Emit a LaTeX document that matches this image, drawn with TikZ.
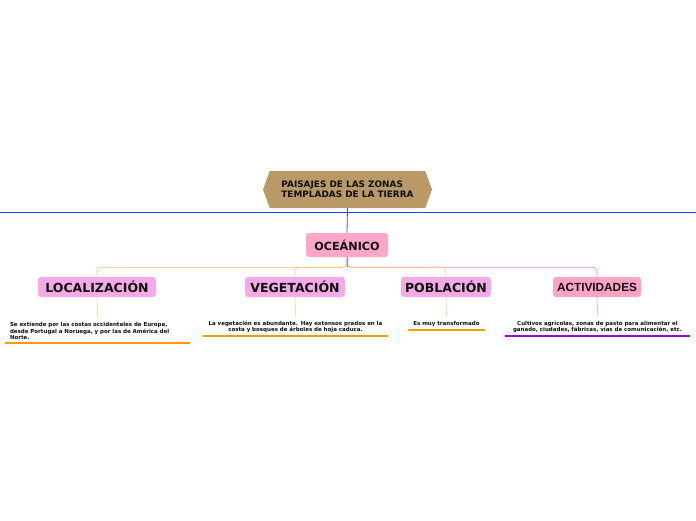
\documentclass[tikz,border=0pt]{standalone}
\usepackage{fontspec}
\setmainfont{DejaVu Sans}
\newfontfamily\actfont{Liberation Sans}
\usetikzlibrary{shapes.symbols}

\definecolor{titletan}{RGB}{185,153,102}
\definecolor{lineblue}{RGB}{20,70,255}
\definecolor{stemviolet}{RGB}{100,50,220}
\definecolor{ocepink}{RGB}{255,166,201}
\definecolor{subpink}{RGB}{245,170,232}
\definecolor{actpink}{RGB}{255,163,196}
\definecolor{lightorange}{RGB}{255,200,120}
\definecolor{lightviolet}{RGB}{214,140,250}
\definecolor{stubpink}{RGB}{225,100,190}
\definecolor{uorange}{RGB}{255,153,0}
\definecolor{upurple}{RGB}{153,0,238}
\definecolor{inkdark}{RGB}{15,15,15}

\tikzset{
  topic/.style={fill=#1, rounded corners=3pt, text=inkdark,
    font=\bfseries\fontsize{11.2}{13}\selectfont, minimum height=20pt, inner xsep=4pt},
  subtopic/.style={topic=#1, font=\bfseries\fontsize{12.5}{14}\selectfont},
  note/.style={font=\bfseries\fontsize{5.5}{6.6}\selectfont, text=inkdark,
    inner xsep=5pt, inner ysep=3pt, anchor=south},
  branch/.style={rounded corners=4pt, line width=0.6pt, draw=#1},
  underline/.style={line width=2.6pt, draw=#1, line cap=round, shorten <=1pt, shorten >=1pt},
}

\begin{document}
\begin{tikzpicture}[x=1pt,y=-1pt]
  \useasboundingbox (0,0) rectangle (696,520);
  % Horizon line
  \draw[lineblue, line width=0.8pt] (0,212) -- (696,212);

  % Main topic
  \node[signal, signal to=west and east, signal pointer angle=140, fill=titletan,
    minimum width=169pt, minimum height=37pt, inner sep=0pt, align=left, text=inkdark,
    font=\bfseries\fontsize{8.9}{10.5}\selectfont] (title) at (347.5,189.5)
    {PAISAJES DE LAS ZONAS\\TEMPLADAS DE LA TIERRA};

  % Central topic
  \node[topic=ocepink, minimum height=24pt, minimum width=82pt] (oce) at (347,245) {OCE\'ANICO};
  \draw[stemviolet, line width=0.8pt] (title.south) -- (oce.north);

  % Subtopics
  \node[subtopic=subpink, minimum width=118pt] (loc) at (97,287) {LOCALIZACI\'ON};
  \node[subtopic=subpink, minimum width=100pt] (veg) at (295,287) {VEGETACI\'ON};
  \node[subtopic=subpink, minimum width=88pt] (pob) at (446,287) {POBLACI\'ON};
  \node[topic=actpink, font=\actfont\bfseries\fontsize{11.8}{13}\selectfont, minimum width=88pt] (act) at (597,287) {ACTIVIDADES};

  % Branches
  \draw[branch=lightorange] (oce.south) -- ++(0,10) -| (loc.north);
  \draw[branch=lightorange] (oce.south) -- ++(0,10) -| (veg.north);
  \draw[branch=lightviolet] (oce.south) -- ++(0,10) -| (act.north);
  \draw[branch=lightorange] (oce.south) -- ++(0,10) -| (pob.north);
  \draw[branch=stubpink] (oce.south) -- ++(0,10);

  % Notes
  \node[note, text width=175pt, align=left] (loctxt) at (97.5,343)
    {Se extiende por las costas occidentales de Europa,\\desde Portugal a Noruega, y por las de Am\'erica del\\Norte.};
  \node[note, text width=175pt, align=center] (vegtxt) at (295.5,336)
    {La vegetaci\'on es abundante. Hay extensos prados en la\\costa y bosques de \'arboles de hoja caduca.};
  \node[note, text width=67pt, align=center] (pobtxt) at (446.5,330)
    {Es muy transformado};
  \node[note, text width=175pt, align=center] (acttxt) at (597.5,336)
    {Cultivos agr\'icolas, zonas de pasto para alimentar el\\ganado, ciudades, f\'abricas, v\'ias de comunicaci\'on, etc.};

  % Note stems
  \draw[lightorange, line width=0.6pt, shorten >=2pt] (loc.south) -- (loctxt.north);
  \draw[lightorange, line width=0.6pt, shorten >=2pt] (veg.south) -- (vegtxt.north);
  \draw[lightorange, line width=0.6pt, shorten >=2pt] (pob.south) -- (pobtxt.north);
  \draw[lightviolet, line width=0.6pt, shorten >=2pt] (act.south) -- (acttxt.north);

  % Underlines
  \draw[underline=uorange] (loctxt.south west) -- (loctxt.south east);
  \draw[underline=uorange] (vegtxt.south west) -- (vegtxt.south east);
  \draw[underline=uorange] (pobtxt.south west) -- (pobtxt.south east);
  \draw[underline=upurple] (acttxt.south west) -- (acttxt.south east);
\end{tikzpicture}
\end{document}
